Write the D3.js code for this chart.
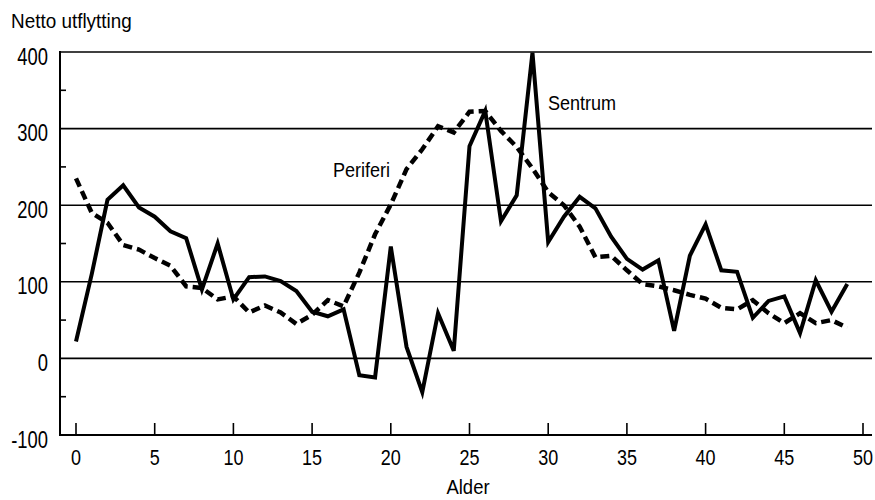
<!DOCTYPE html>
<html><head><meta charset="utf-8">
<script src="https://cdn.jsdelivr.net/npm/d3@7"></script>
<style>
html,body{margin:0;padding:0;background:#fff;}
text{font-family:"Liberation Sans Narrow","Arial Narrow","Liberation Sans",Arial,sans-serif;fill:#000;}
</style></head>
<body><svg id="c" width="875" height="500"></svg>
<script>
const ages = d3.range(0, 50);
const sentrum = [22,110,207,226,197,185,166,157,90,150,77,106,107,101,88,61,55,64,-22,-25,146,15,-44,59,10,277,323,179,213,399,152,185,211,196,159,130,116,128,36,134,175,115,113,53,75,81,33,102,61,97];
const periferi = [235,190,177,148,142,131,121,94,92,77,81,60,69,60,45,57,76,68,112,162,201,247,273,303,295,322,323,297,276,248,217,200,172,132,134,115,97,94,89,83,78,66,64,76,59,46,59,46,50,40];
const xTicks = [0,5,10,15,20,25,30,35,40,45,50];
const yMajor = [400,300,200,100,0,-100];
const yMinor = [350,250,150,50,-50];

const svg = d3.select("#c");
const x = d3.scaleLinear().domain([0,50]).range([76,863]);
const y = d3.scaleLinear().domain([-100,400]).range([435,52]);
const left = 60, right = 872;

function label(g, tx, ty, str, size, sx, anchor) {
  g.append("g").attr("transform", `translate(${tx},${ty}) scale(${sx},1)`)
    .append("text").attr("font-size", size).attr("text-anchor", anchor || "start").text(str);
}

// gridlines
svg.append("g").selectAll("line").data(yMajor).join("line")
  .attr("x1", left).attr("x2", right)
  .attr("y1", d => y(d)).attr("y2", d => y(d))
  .attr("stroke", "#000").attr("stroke-width", d => d === -100 ? 2 : 1.6);
// y axis line
svg.append("line").attr("x1", left).attr("x2", left).attr("y1", y(400) - 1).attr("y2", y(-100) + 1)
  .attr("stroke", "#000").attr("stroke-width", 2);
// minor ticks
svg.append("g").selectAll("line").data(yMinor).join("line")
  .attr("x1", left).attr("x2", left + 6)
  .attr("y1", d => y(d)).attr("y2", d => y(d))
  .attr("stroke", "#000").attr("stroke-width", 1.6);
// y labels
const gy = svg.append("g");
yMajor.forEach(d => label(gy, 48, y(d) + 12.5, String(d), 23, 0.8, "end"));
// x ticks
svg.append("g").selectAll("line").data(xTicks).join("line")
  .attr("x1", d => x(d)).attr("x2", d => x(d))
  .attr("y1", y(-100)).attr("y2", y(-100) - 12)
  .attr("stroke", "#000").attr("stroke-width", 1.6);
const gx = svg.append("g");
xTicks.forEach(d => label(gx, x(d), 464.5, String(d), 22.5, 0.8, "middle"));

// lines
const line = d3.line().x((d,i) => x(ages[i])).y(d => y(d));
svg.append("path").datum(periferi).attr("d", line)
  .attr("fill", "none").attr("stroke", "#000").attr("stroke-width", 4.5)
  .attr("stroke-dasharray", "9,5");
svg.append("path").datum(sentrum).attr("d", line)
  .attr("fill", "none").attr("stroke", "#000").attr("stroke-width", 4)
  .attr("stroke-linejoin", "miter");

// labels
label(svg, 11, 28, "Netto utflytting", 21, 0.9);
label(svg, 468, 494, "Alder", 21, 0.88, "middle");
label(svg, 548, 110, "Sentrum", 20.5, 0.88);
label(svg, 333, 177, "Periferi", 20.5, 0.88);
</script></body></html>
